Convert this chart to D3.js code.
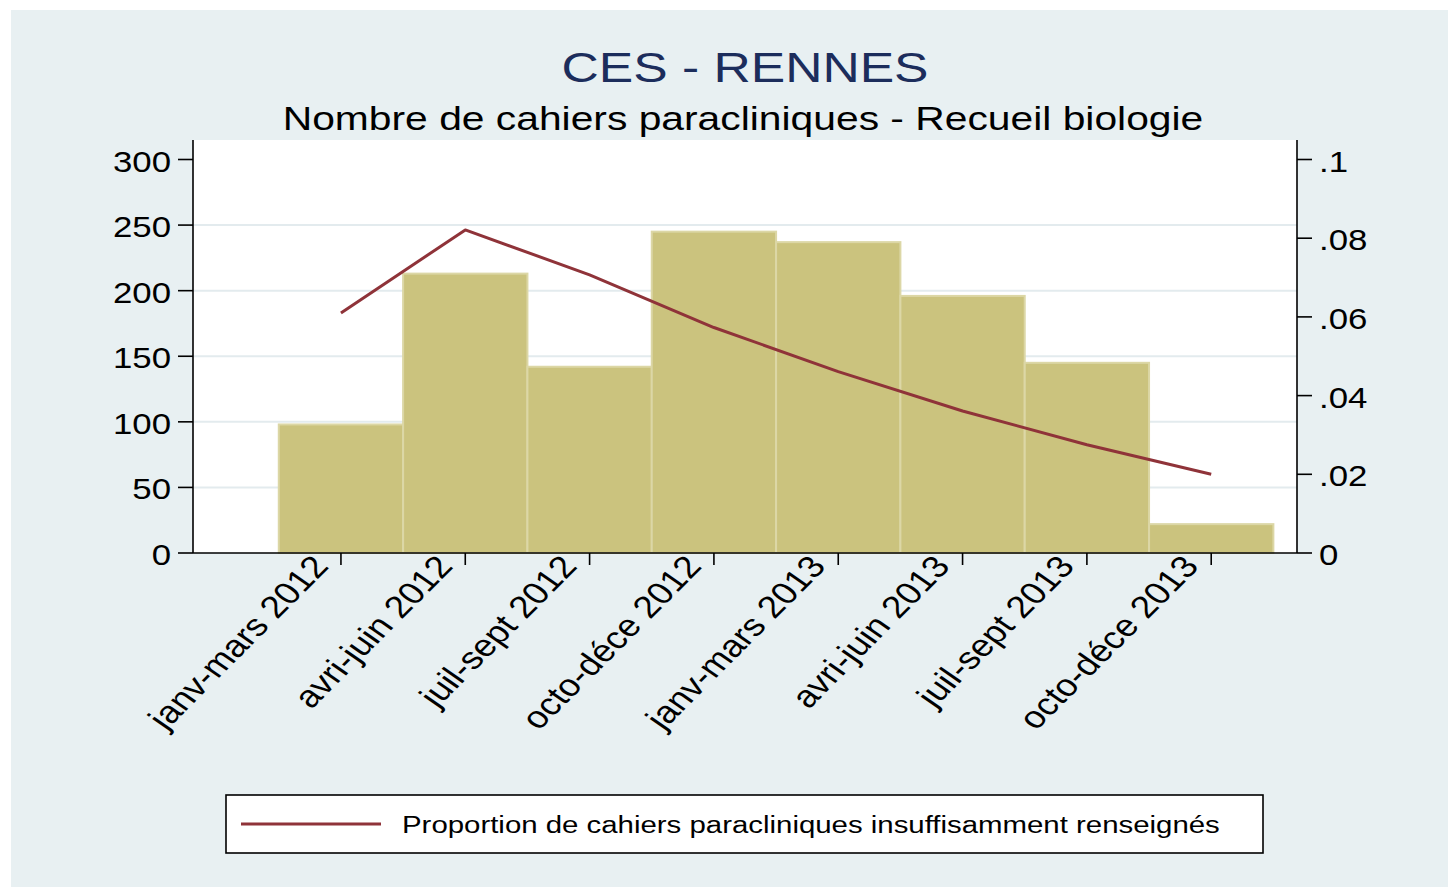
<!DOCTYPE html>
<html>
<head>
<meta charset="utf-8">
<script src="https://cdn.jsdelivr.net/npm/d3@7"></script>
<style>
  html, body { margin: 0; padding: 0; background: #ffffff; }
  svg { display: block; font-family: "Liberation Sans", Arial, sans-serif; }
</style>
</head>
<body>
<div id="chart"></div>
<script>
// Quarters (x categories)
const quarters = ["janv-mars 2012", "avri-juin 2012", "juil-sept 2012", "octo-déce 2012",
                  "janv-mars 2013", "avri-juin 2013", "juil-sept 2013", "octo-déce 2013"];
// Number of paraclinical notebooks (bars, left axis)
const counts = [98, 213, 142, 245, 237, 196, 145, 22];
// Proportion insufficiently filled (line, right axis)
const proportions = [0.0610, 0.0821, 0.0707, 0.0573, 0.0461, 0.0361, 0.0275, 0.0200];
// Tick values
const leftTicks = [0, 50, 100, 150, 200, 250, 300];
const rightTicks = [0, 0.02, 0.04, 0.06, 0.08, 0.1];
const gridTicks = [50, 100, 150, 200, 250];

const title = "CES - RENNES";
const subtitle = "Nombre de cahiers paracliniques - Recueil biologie";
const legendLabel = "Proportion de cahiers paracliniques insuffisamment renseignés";

const W = 1448, H = 887;
const plot = {left: 193, right: 1297, top: 140, bottom: 553};
const sx = 1.2; // horizontal stretch of the exported graph

const svg = d3.select("#chart").append("svg")
    .attr("width", W)
    .attr("height", H);

// graph region background
svg.append("rect")
    .attr("x", 11).attr("y", 10)
    .attr("width", W - 11).attr("height", H - 10)
    .attr("fill", "#e8f0f2");

// plot region
svg.append("rect")
    .attr("x", plot.left).attr("y", plot.top)
    .attr("width", plot.right - plot.left)
    .attr("height", plot.bottom - plot.top)
    .attr("fill", "#ffffff");

// scales
const x = d3.scaleLinear().domain([-1.19, 7.69]).range([plot.left, plot.right]);
const yLeft = d3.scaleLinear().domain([0, 300]).range([plot.bottom, 159.5]);
const yRight = d3.scaleLinear().domain([0, 0.1]).range([plot.bottom, 159.5]);

// helper for stretched text
function stretchedText(g, tx, ty, str, size, anchor, color, extra) {
    return g.append("text")
        .attr("transform", `translate(${tx},${ty}) scale(${sx},1)` + (extra || ""))
        .attr("text-anchor", anchor)
        .attr("font-size", size)
        .attr("fill", color || "#000")
        .text(str);
}

// gridlines
svg.append("g").selectAll("line")
    .data(gridTicks)
    .join("line")
    .attr("x1", plot.left).attr("x2", plot.right)
    .attr("y1", d => yLeft(d)).attr("y2", d => yLeft(d))
    .attr("stroke", "#e3ebee")
    .attr("stroke-width", 2);

// bars
svg.append("g").selectAll("rect")
    .data(counts)
    .join("rect")
    .attr("x", (d, i) => x(i - 0.5))
    .attr("y", d => yLeft(d))
    .attr("width", x(1) - x(0))
    .attr("height", d => yLeft(0) - yLeft(d))
    .attr("fill", "#cbc37e")
    .attr("stroke", "#dcd7a6")
    .attr("stroke-width", 2);

// line
const line = d3.line()
    .x((d, i) => x(i))
    .y(d => yRight(d));

svg.append("path")
    .datum(proportions)
    .attr("d", line)
    .attr("fill", "none")
    .attr("stroke", "#8f3339")
    .attr("stroke-width", 3)
    .attr("stroke-linejoin", "round");

// axes lines
const axes = svg.append("g").attr("stroke", "#000").attr("stroke-width", 1.6);
axes.append("line").attr("x1", plot.left).attr("x2", plot.left).attr("y1", plot.top).attr("y2", plot.bottom);
axes.append("line").attr("x1", plot.right).attr("x2", plot.right).attr("y1", plot.top).attr("y2", plot.bottom);
axes.append("line").attr("x1", plot.left).attr("x2", plot.right).attr("y1", plot.bottom).attr("y2", plot.bottom);

// left axis ticks + labels
const leftG = svg.append("g");
leftTicks.forEach(t => {
    leftG.append("line")
        .attr("x1", plot.left - 15).attr("x2", plot.left)
        .attr("y1", yLeft(t)).attr("y2", yLeft(t))
        .attr("stroke", "#000").attr("stroke-width", 1.6);
    stretchedText(leftG, plot.left - 22, yLeft(t) + 12, d3.format("d")(t), 29, "end");
});

// right axis ticks + labels
const rightG = svg.append("g");
const fmtRight = v => v === 0 ? "0" : d3.format(".2~f")(v).replace(/^0/, "");
rightTicks.forEach(t => {
    rightG.append("line")
        .attr("x1", plot.right).attr("x2", plot.right + 15)
        .attr("y1", yRight(t)).attr("y2", yRight(t))
        .attr("stroke", "#000").attr("stroke-width", 1.6);
    stretchedText(rightG, plot.right + 22, yRight(t) + 12, fmtRight(t), 29, "start");
});

// x axis ticks + rotated labels
const xG = svg.append("g");
quarters.forEach((q, i) => {
    xG.append("line")
        .attr("x1", x(i)).attr("x2", x(i))
        .attr("y1", plot.bottom).attr("y2", plot.bottom + 12)
        .attr("stroke", "#000").attr("stroke-width", 1.6);
    stretchedText(xG, x(i) - 11, plot.bottom + 14, q, 31, "end", "#000", " rotate(-50.2)");
});

// titles
stretchedText(svg, 745, 82, title, 43, "middle", "#1c2d5c");
stretchedText(svg, 743, 130, subtitle, 34, "middle", "#000");

// legend
const leg = svg.append("g");
leg.append("rect")
    .attr("x", 226).attr("y", 795)
    .attr("width", 1263 - 226).attr("height", 853 - 795)
    .attr("fill", "#ffffff")
    .attr("stroke", "#000").attr("stroke-width", 1.6);
leg.append("line")
    .attr("x1", 241).attr("x2", 381)
    .attr("y1", 824).attr("y2", 824)
    .attr("stroke", "#8f3339").attr("stroke-width", 3);
stretchedText(leg, 402, 833, legendLabel, 24.5, "start", "#000");
</script>
</body>
</html>
